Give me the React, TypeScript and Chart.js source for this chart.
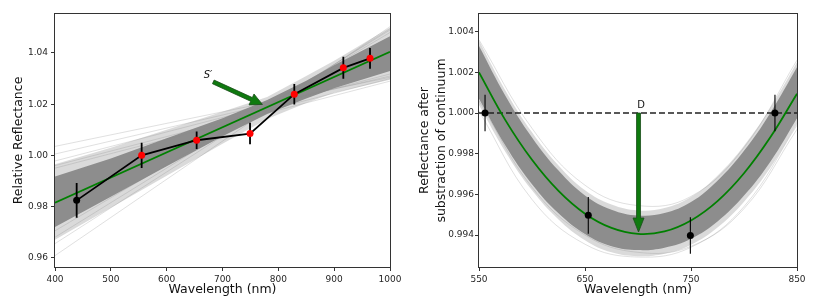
import React, { useEffect, useRef } from 'react';
import { Chart, registerables } from 'chart.js';

Chart.register(...registerables);

const FONT = 'DejaVu Sans';

// ---------------- Left panel data ----------------
const L_WAVE = [438.8, 555.2, 653.7, 749.3, 828.6, 916.4, 964.2];
const L_REFL = [0.9824, 1.0, 1.0059, 1.0085, 1.0239, 1.0342, 1.0379];
const L_ERR = [0.0068, 0.0049, 0.0034, 0.0042, 0.004, 0.0043, 0.0041];
const L_POINT_COLORS = ['#000000', '#ff0000', '#ff0000', '#ff0000', '#ff0000', '#ff0000', '#ff0000'];

const L_FIT_X = [400, 1000];
const L_FIT_Y = [0.9815, 1.0405];

const L_BAND_X = [400, 500, 600, 700, 780, 850, 900, 1000];
const L_DENSE_HI = [0.9917, 0.9988, 1.0067, 1.0145, 1.0216, 1.0292, 1.0352, 1.0465];
const L_DENSE_LO = [0.972, 0.9838, 0.9957, 1.0075, 1.0162, 1.0222, 1.0262, 1.033];
const L_FRINGE_HI = [0.9965, 1.003, 1.01, 1.017, 1.0228, 1.031, 1.037, 1.05];
const L_FRINGE_LO = [0.967, 0.9795, 0.992, 1.0045, 1.0142, 1.0205, 1.0245, 1.0295];

const L_OUT_START = [1.0035, 1.0005, 0.9978, 0.996, 0.9705, 0.968, 0.9655, 0.9608, 0.995];
const L_OUT_END = [1.0305, 1.031, 1.0318, 1.03, 1.048, 1.049, 1.0495, 1.0503, 1.029];

const L_X_TICKS = [400, 500, 600, 700, 800, 900, 1000];
const L_Y_TICKS = [0.96, 0.98, 1.0, 1.02, 1.04];
const L_X_RANGE = [400, 1000];
const L_Y_RANGE = [0.95636, 1.05524];

const L_ARROW_X = [683.5, 771.5];
const L_ARROW_Y = [1.0287, 1.0199];
const L_LABEL = 'S′';
const L_LABEL_POS = [674, 1.0314];

// ---------------- Right panel data ----------------
const R_WAVE = [555.7, 653.1, 749.4, 829.2];
const R_REFL = [1.0, 0.99497, 0.99398, 1.0];
const R_ERR = [0.0009, 0.0009, 0.0009, 0.0009];

const R_GRID_X = [550, 575, 600, 625, 650, 675, 700, 725, 750, 775, 800, 825, 850];
const R_FIT_Y = [1.002, 0.99964, 0.9977, 0.99617, 0.99505, 0.99435, 0.99406, 0.99418, 0.99472, 0.99567, 0.99704, 0.99882, 1.00095];
const R_DENSE_HI = [1.0033, 1.00084, 0.9988, 0.99717, 0.99595, 0.99525, 0.99496, 0.99508, 0.99562, 0.99667, 0.99814, 1.00002, 1.00225];
const R_DENSE_LO = [1.0007, 0.99839, 0.9965, 0.99507, 0.99405, 0.99345, 0.99326, 0.99338, 0.99382, 0.99467, 0.99594, 0.99762, 0.99975];
const R_FRINGE_HI = [1.00355, 1.0011, 0.99905, 0.99742, 0.9962, 0.9955, 0.99521, 0.99533, 0.99587, 0.99692, 0.99839, 1.00027, 1.0025];
const R_FRINGE_LO = [1.0004, 0.99809, 0.9962, 0.99477, 0.99375, 0.99315, 0.99296, 0.99308, 0.99352, 0.99437, 0.99564, 0.99732, 0.99945];

const R_OUT_X = [550, 600, 650, 700, 750, 800, 850];
const R_OUT_A = [1.0001, 0.99575, 0.99355, 0.99292, 0.9934, 0.9954, 0.9994];
const R_OUT_B = [1.0036, 0.99925, 0.99645, 0.99545, 0.9959, 0.9983, 1.0026];
const R_OUT_C = [1.0006, 0.99635, 0.994, 0.99315, 0.99345, 0.9953, 0.9992];

const R_CONT_X = [550, 850];
const R_CONT_Y = [1.0, 1.0];

const R_X_TICKS = [550, 650, 750, 850];
const R_Y_TICKS = [0.994, 0.996, 0.998, 1.0, 1.002, 1.004];
const R_X_RANGE = [550, 850];
const R_Y_RANGE = [0.99243, 1.00487];

const R_ARROW_X = [700.5, 700.5];
const R_ARROW_Y = [1.0, 0.99415];
const R_LABEL = 'D';
const R_LABEL_POS = [703, 1.00038];

// ---------------- helpers ----------------
const pts = (xs: number[], ys: number[]) => xs.map((x, i) => ({ x, y: ys[i] }));

function drawArrow(ctx: CanvasRenderingContext2D, x1: number, y1: number, x2: number, y2: number, shaftW: number, headW: number, headL: number) {
  const dx = x2 - x1, dy = y2 - y1;
  const len = Math.hypot(dx, dy);
  const ux = dx / len, uy = dy / len;
  const nx = -uy, ny = ux;
  const bx = x2 - ux * headL, by = y2 - uy * headL;
  ctx.beginPath();
  ctx.moveTo(x1 + nx * shaftW / 2, y1 + ny * shaftW / 2);
  ctx.lineTo(bx + nx * shaftW / 2, by + ny * shaftW / 2);
  ctx.lineTo(bx + nx * headW / 2, by + ny * headW / 2);
  ctx.lineTo(x2, y2);
  ctx.lineTo(bx - nx * headW / 2, by - ny * headW / 2);
  ctx.lineTo(bx - nx * shaftW / 2, by - ny * shaftW / 2);
  ctx.lineTo(x1 - nx * shaftW / 2, y1 - ny * shaftW / 2);
  ctx.closePath();
  ctx.fillStyle = '#0f7a0f';
  ctx.fill();
  ctx.lineWidth = 0.8;
  ctx.strokeStyle = '#1b4d1b';
  ctx.stroke();
}

function errorBars(xs: number[], ys: number[], errs: number[], width: number, dsIndex: number) {
  return {
    id: 'errorBars' + dsIndex,
    beforeDatasetDraw(chart: any, args: any) {
      if (args.index !== dsIndex) return;
      const { ctx, scales } = chart;
      const sx = scales.x, sy = scales.y;
      ctx.save();
      ctx.strokeStyle = '#000';
      ctx.lineWidth = width;
      ctx.beginPath();
      xs.forEach((xv, i) => {
        const px = sx.getPixelForValue(xv);
        ctx.moveTo(px, sy.getPixelForValue(ys[i] + errs[i]));
        ctx.lineTo(px, sy.getPixelForValue(ys[i] - errs[i]));
      });
      ctx.stroke();
      ctx.restore();
    },
  };
}

function overlay(arrowX: number[], arrowY: number[], shaftW: number, headW: number, headL: number, label: string, labelPos: number[], labelFont: string) {
  return {
    id: 'overlay',
    afterDatasetsDraw(chart: any) {
      const { ctx, scales } = chart;
      const sx = scales.x, sy = scales.y;
      ctx.save();
      drawArrow(ctx, sx.getPixelForValue(arrowX[0]), sy.getPixelForValue(arrowY[0]), sx.getPixelForValue(arrowX[1]), sy.getPixelForValue(arrowY[1]), shaftW, headW, headL);
      ctx.fillStyle = '#111';
      ctx.font = labelFont;
      ctx.textAlign = 'center';
      ctx.textBaseline = 'middle';
      ctx.fillText(label, sx.getPixelForValue(labelPos[0]), sy.getPixelForValue(labelPos[1]));
      ctx.restore();
    },
    afterDraw(chart: any) {
      const { ctx, chartArea: a } = chart;
      ctx.save();
      ctx.strokeStyle = '#333';
      ctx.lineWidth = 1;
      ctx.strokeRect(Math.round(a.left) - 0.5, Math.round(a.top) - 0.5, Math.round(a.right - a.left) + 1, Math.round(a.bottom - a.top) + 1);
      ctx.restore();
    },
  };
}

function scale(range: number[], ticks: number[], digits: number, title: string | string[], isX: boolean, size: number, titlePad: any, tickPad: number, lineHeight = 1.2) {
  return {
    type: 'linear',
    min: range[0],
    max: range[1],
    bounds: 'data',
    afterBuildTicks: (s: any) => {
      s.ticks = ticks.map((v) => ({ value: v }));
    },
    afterFit: (s: any) => {
      if (isX) s.height = size;
      else s.width = size;
    },
    ticks: {
      autoSkip: false,
      maxRotation: 0,
      padding: tickPad,
      color: '#262626',
      font: { family: FONT, size: 9 },
      callback: (v: any) => Number(v).toFixed(digits),
    },
    grid: {
      display: true,
      drawOnChartArea: false,
      drawTicks: true,
      tickLength: 4,
      tickColor: '#333',
      color: '#333',
    },
    border: { display: false },
    title: {
      display: true,
      text: title,
      color: '#111',
      font: { family: FONT, size: 12.5, lineHeight },
      padding: titlePad,
    },
  };
}

function bandSets(xs: number[], hi: number[], lo: number[], color: string, order: number) {
  return [
    { data: pts(xs, hi), fill: '+1', backgroundColor: color, borderWidth: 0, pointRadius: 0, order },
    { data: pts(xs, lo), fill: false, borderWidth: 0, pointRadius: 0, order },
  ];
}

function leftConfig(): any {
  const outliers = L_OUT_START.map((s, i) => ({
    data: pts(L_FIT_X, [s, L_OUT_END[i]]),
    borderColor: 'rgba(140,140,140,0.45)',
    borderWidth: 0.6,
    pointRadius: 0,
    fill: false,
    order: 8,
  }));
  const datasets: any[] = [
    ...bandSets(L_BAND_X, L_FRINGE_HI, L_FRINGE_LO, 'rgba(150,150,150,0.35)', 10),
    ...bandSets(L_BAND_X, L_DENSE_HI, L_DENSE_LO, '#8d8d8d', 9),
    ...outliers,
    { data: pts(L_FIT_X, L_FIT_Y), borderColor: '#008000', borderWidth: 1.8, pointRadius: 0, fill: false, order: 3 },
    {
      data: pts(L_WAVE, L_REFL),
      borderColor: '#000',
      borderWidth: 1.8,
      pointRadius: 3.5,
      pointBorderWidth: 0,
      pointBackgroundColor: L_POINT_COLORS,
      fill: false,
      order: 1,
    },
  ];
  const pointIdx = datasets.length - 1;
  return {
    type: 'line',
    data: { datasets },
    options: {
      responsive: false,
      animation: false,
      layout: { padding: { left: 0, right: 25, top: 14, bottom: 0 } },
      plugins: { legend: { display: false }, tooltip: { enabled: false } },
      scales: {
        x: scale(L_X_RANGE, L_X_TICKS, 0, 'Wavelength (nm)', true, 38, { top: 0, bottom: 8 }, 3),
        y: scale(L_Y_RANGE, L_Y_TICKS, 2, 'Relative Reflectance', false, 55, { top: 11, bottom: 0 }, 3),
      },
    },
    plugins: [
      errorBars(L_WAVE, L_REFL, L_ERR, 1.8, pointIdx),
      overlay(L_ARROW_X, L_ARROW_Y, 4, 12, 12, L_LABEL, L_LABEL_POS, `italic 10px "${FONT}"`),
    ],
  };
}

function rightConfig(): any {
  const outliers = [R_OUT_A, R_OUT_B, R_OUT_C].map((ys) => ({
    data: pts(R_OUT_X, ys),
    borderColor: 'rgba(140,140,140,0.45)',
    borderWidth: 0.6,
    pointRadius: 0,
    tension: 0.4,
    fill: false,
    order: 8,
  }));
  const fringe = bandSets(R_GRID_X, R_FRINGE_HI, R_FRINGE_LO, 'rgba(150,150,150,0.35)', 10).map((d) => ({ ...d, tension: 0.4 }));
  const dense = bandSets(R_GRID_X, R_DENSE_HI, R_DENSE_LO, '#8d8d8d', 9).map((d) => ({ ...d, tension: 0.4 }));
  const datasets: any[] = [
    ...fringe,
    ...dense,
    ...outliers,
    { data: pts(R_CONT_X, R_CONT_Y), borderColor: '#222', borderWidth: 1.5, borderDash: [6, 3], pointRadius: 0, fill: false, order: 4 },
    { data: pts(R_GRID_X, R_FIT_Y), borderColor: '#008000', borderWidth: 1.8, pointRadius: 0, tension: 0.4, fill: false, order: 3 },
    {
      data: pts(R_WAVE, R_REFL),
      showLine: false,
      pointRadius: 3.5,
      pointBorderWidth: 0,
      pointBackgroundColor: '#000',
      fill: false,
      order: 1,
    },
  ];
  const pointIdx = datasets.length - 1;
  return {
    type: 'line',
    data: { datasets },
    options: {
      responsive: false,
      animation: false,
      layout: { padding: { left: 0, right: 33, top: 14, bottom: 0 } },
      plugins: { legend: { display: false }, tooltip: { enabled: false } },
      scales: {
        x: scale(R_X_RANGE, R_X_TICKS, 0, 'Wavelength (nm)', true, 38, { top: 0, bottom: 8 }, 3),
        y: scale(R_Y_RANGE, R_Y_TICKS, 3, ['Reflectance after', 'substraction of continuum'], false, 64, { top: 2, bottom: 0 }, 1, 1.3),
      },
    },
    plugins: [
      errorBars(R_WAVE, R_REFL, R_ERR, 1.1, pointIdx),
      overlay(R_ARROW_X, R_ARROW_Y, 4, 11, 14, R_LABEL, R_LABEL_POS, `10px "${FONT}"`),
    ],
  };
}

export default function App() {
  const leftRef = useRef<HTMLCanvasElement>(null);
  const rightRef = useRef<HTMLCanvasElement>(null);
  useEffect(() => {
    document.body.style.margin = '0';
    Chart.defaults.font.family = FONT;
    const c1 = new Chart(leftRef.current as HTMLCanvasElement, leftConfig());
    const c2 = new Chart(rightRef.current as HTMLCanvasElement, rightConfig());
    return () => {
      c1.destroy();
      c2.destroy();
    };
  }, []);
  return (
    <div style={{ display: 'flex', width: 830, height: 305, background: '#fff' }}>
      <canvas ref={leftRef} width={415} height={305} style={{ width: 415, height: 305, display: 'block' }} />
      <canvas ref={rightRef} width={415} height={305} style={{ width: 415, height: 305, display: 'block' }} />
    </div>
  );
}
